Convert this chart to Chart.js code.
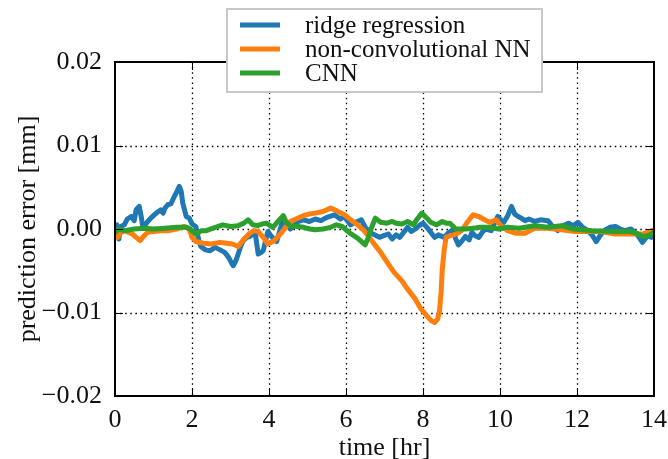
<!DOCTYPE html>
<html>
<head>
<meta charset="utf-8">
<script src="https://cdn.jsdelivr.net/npm/chart.js@4.4.1/dist/chart.umd.min.js"></script>
<style>
html,body{margin:0;padding:0;background:#fff;}
#c{display:block;}
</style>
</head>
<body>
<canvas id="c" width="668" height="459"></canvas>
<script>
// ---- data ----
const seriesLabels = ["ridge regression", "non-convolutional NN", "CNN"];
const seriesColors = ["#1f77b4", "#ff7f0e", "#2ca02c"];
const xTicks = [0, 2, 4, 6, 8, 10, 12, 14];
const yTicks = [-0.02, -0.01, 0.00, 0.01, 0.02];

const ridgeTime = [0.00,0.05,0.10,0.15,0.24,0.32,0.42,0.50,0.55,0.63,0.68,0.72,0.80,0.85,0.95,1.02,1.10,1.19,1.25,1.30,1.37,1.45,1.54,1.60,1.67,1.72,1.76,1.85,1.93,2.00,2.10,2.17,2.23,2.35,2.47,2.60,2.73,2.85,2.95,3.02,3.07,3.14,3.20,3.27,3.33,3.42,3.50,3.58,3.64,3.72,3.80,3.85,3.92,3.97,4.05,4.12,4.20,4.28,4.37,4.45,4.55,4.65,4.75,4.90,5.05,5.20,5.35,5.50,5.70,5.85,5.96,6.05,6.12,6.25,6.40,6.50,6.60,6.70,6.87,6.98,7.10,7.20,7.30,7.40,7.50,7.60,7.70,7.80,7.90,8.00,8.10,8.20,8.30,8.40,8.55,8.65,8.78,8.85,8.92,9.00,9.10,9.20,9.27,9.35,9.45,9.55,9.63,9.77,9.85,9.94,10.02,10.10,10.20,10.30,10.38,10.47,10.55,10.65,10.75,10.90,11.05,11.25,11.35,11.50,11.60,11.78,11.90,12.03,12.15,12.28,12.40,12.50,12.60,12.73,12.85,13.00,13.12,13.25,13.40,13.50,13.60,13.70,13.78,13.85,13.93,14.00];
const ridgeError = [-0.0008,0.0005,-0.0012,0.0003,0.0005,0.0012,0.0015,0.0010,0.0023,0.0027,0.0015,0.0003,0.0006,0.0009,0.0014,0.0017,0.0020,0.0023,0.0019,0.0025,0.0029,0.0030,0.0039,0.0044,0.0051,0.0045,0.0031,0.0015,0.0013,0.0006,0.0003,-0.0012,-0.0021,-0.0025,-0.0026,-0.0022,-0.0025,-0.0028,-0.0034,-0.0040,-0.0044,-0.0038,-0.0030,-0.0020,-0.0014,-0.0010,-0.0009,-0.0006,-0.0004,-0.0030,-0.0028,-0.0026,-0.0012,-0.0003,-0.0008,-0.0012,-0.0015,-0.0002,0.0012,0.0006,0.0000,0.0004,0.0009,0.0011,0.0009,0.0012,0.0010,0.0014,0.0017,0.0012,0.0015,0.0009,0.0005,0.0008,0.0011,0.0002,-0.0003,-0.0006,-0.0010,-0.0008,-0.0006,-0.0012,-0.0007,-0.0010,-0.0004,0.0002,-0.0003,0.0000,0.0004,0.0007,0.0002,-0.0004,-0.0010,-0.0007,-0.0010,-0.0005,-0.0001,-0.0012,-0.0019,-0.0015,-0.0009,-0.0013,-0.0004,-0.0008,-0.0010,-0.0003,0.0000,-0.0002,0.0006,0.0015,0.0011,0.0008,0.0016,0.0027,0.0018,0.0015,0.0013,0.0010,0.0012,0.0009,0.0011,0.0010,0.0004,-0.0002,0.0003,0.0007,0.0004,0.0008,0.0002,-0.0002,-0.0008,-0.0015,-0.0008,-0.0001,0.0002,0.0003,0.0000,-0.0002,0.0000,-0.0004,-0.0009,-0.0016,-0.0011,-0.0008,-0.0010,-0.0003];

const nnTime = [0.00,0.07,0.15,0.25,0.35,0.45,0.55,0.65,0.72,0.85,1.00,1.20,1.40,1.60,1.80,1.93,2.00,2.10,2.30,2.50,2.73,2.90,3.05,3.20,3.35,3.50,3.62,3.72,3.85,3.97,4.10,4.20,4.35,4.55,4.70,4.90,5.05,5.20,5.40,5.60,5.75,5.96,6.15,6.30,6.45,6.56,6.70,6.90,7.10,7.25,7.45,7.60,7.80,7.95,8.10,8.22,8.30,8.38,8.43,8.47,8.50,8.55,8.60,8.70,8.80,8.90,9.00,9.15,9.30,9.45,9.56,9.73,9.90,10.00,10.20,10.40,10.65,10.90,11.25,11.60,11.94,12.30,12.60,13.00,13.37,13.70,14.00];
const nnError = [-0.0005,-0.0010,-0.0004,-0.0002,-0.0004,-0.0006,-0.0010,-0.0014,-0.0010,-0.0004,-0.0003,-0.0002,-0.0002,0.0000,0.0003,0.0000,-0.0010,-0.0015,-0.0017,-0.0018,-0.0016,-0.0017,-0.0018,-0.0021,-0.0012,-0.0005,-0.0002,-0.0003,-0.0010,-0.0018,-0.0015,-0.0011,-0.0003,0.0009,0.0012,0.0016,0.0018,0.0019,0.0021,0.0025,0.0022,0.0017,0.0010,0.0005,-0.0001,-0.0007,-0.0016,-0.0028,-0.0042,-0.0052,-0.0062,-0.0072,-0.0084,-0.0096,-0.0104,-0.0110,-0.0112,-0.0108,-0.0098,-0.0075,-0.0049,-0.0025,-0.0010,-0.0008,-0.0007,-0.0005,-0.0002,0.0008,0.0017,0.0015,0.0012,0.0008,0.0011,0.0005,-0.0002,-0.0005,-0.0005,0.0001,0.0001,-0.0001,-0.0003,-0.0003,-0.0003,-0.0006,-0.0006,-0.0006,-0.0001];

const cnnTime = [0.00,0.10,0.25,0.50,0.75,1.00,1.30,1.60,1.86,1.95,2.10,2.25,2.37,2.55,2.80,3.00,3.20,3.35,3.46,3.58,3.70,3.82,3.93,4.10,4.25,4.37,4.45,4.55,4.75,4.90,5.06,5.20,5.40,5.60,5.75,5.90,6.10,6.30,6.50,6.58,6.65,6.76,6.90,7.06,7.20,7.30,7.45,7.60,7.75,7.85,7.97,8.10,8.20,8.35,8.50,8.60,8.70,8.85,9.10,9.30,9.50,9.70,9.96,10.20,10.50,10.90,11.25,11.60,11.90,12.40,13.00,13.37,13.55,13.70,13.85,14.00];
const cnnError = [-0.0004,0.0000,-0.0002,0.0000,0.0001,0.0000,0.0001,0.0002,0.0002,0.0000,-0.0006,-0.0002,-0.0002,0.0001,0.0005,0.0003,0.0004,0.0007,0.0011,0.0005,0.0004,0.0006,0.0007,0.0002,0.0010,0.0016,0.0008,0.0004,0.0003,0.0002,0.0000,-0.0001,0.0000,0.0002,0.0005,0.0003,-0.0005,-0.0011,-0.0019,-0.0010,0.0000,0.0013,0.0008,0.0007,0.0009,0.0007,0.0006,0.0009,0.0005,0.0012,0.0019,0.0013,0.0008,0.0005,0.0009,0.0007,0.0007,0.0000,0.0000,0.0001,0.0002,0.0002,0.0000,0.0002,0.0001,0.0004,0.0002,0.0004,0.0000,-0.0002,-0.0003,-0.0003,-0.0005,-0.0009,-0.0008,-0.0004];

// ---- build chart ----
const FONT = "'Liberation Serif','Times New Roman',Times,serif";
const FS = 26;
const zip = (xs, ys) => xs.map((x, i) => ({x: x, y: ys[i]}));
const seriesData = [zip(ridgeTime, ridgeError), zip(nnTime, nnError), zip(cnnTime, cnnError)];

function fmtY(v) {
  if (Math.abs(v) < 1e-9) v = 0;
  return v.toFixed(2).replace('-', '\u2212');
}

const framePlugin = {
  id: 'frame',
  beforeDatasetsDraw(chart) {
    const {ctx, chartArea: a, scales: {x, y}} = chart;
    ctx.save();
    ctx.strokeStyle = '#000';
    ctx.lineWidth = 1.3;
    ctx.setLineDash([1.5, 3.6]);
    xTicks.slice(1, -1).forEach(t => {
      const px = Math.round(x.getPixelForValue(t)) + 0.5;
      ctx.beginPath(); ctx.moveTo(px, a.top); ctx.lineTo(px, a.bottom); ctx.stroke();
    });
    yTicks.slice(1, -1).forEach(t => {
      const py = Math.round(y.getPixelForValue(t)) + 0.5;
      ctx.beginPath(); ctx.moveTo(a.left, py); ctx.lineTo(a.right, py); ctx.stroke();
    });
    ctx.restore();
  },
  afterDatasetsDraw(chart) {
    const {ctx, chartArea: a, scales: {x, y}} = chart;
    ctx.save();
    ctx.strokeStyle = '#000';
    ctx.lineWidth = 1;
    const tl = 8;
    xTicks.forEach(t => {
      const px = Math.round(x.getPixelForValue(t)) + 0.5;
      ctx.beginPath();
      ctx.moveTo(px, a.bottom); ctx.lineTo(px, a.bottom - tl);
      ctx.moveTo(px, a.top); ctx.lineTo(px, a.top + tl);
      ctx.stroke();
    });
    yTicks.forEach(t => {
      const py = Math.round(y.getPixelForValue(t)) + 0.5;
      ctx.beginPath();
      ctx.moveTo(a.left, py); ctx.lineTo(a.left + tl, py);
      ctx.moveTo(a.right, py); ctx.lineTo(a.right - tl, py);
      ctx.stroke();
    });
    ctx.lineWidth = 2;
    ctx.strokeRect(a.left, a.top, a.right - a.left, a.bottom - a.top);
    ctx.restore();
  },
  afterDraw(chart) {
    const {ctx} = chart;
    ctx.save();
    const bx = 227, by = 9, bw = 315, bh = 83;
    ctx.fillStyle = '#fff';
    ctx.fillRect(bx, by, bw, bh);
    ctx.strokeStyle = '#c8c8c8';
    ctx.lineWidth = 2;
    ctx.strokeRect(bx, by, bw, bh);
    chart.data.datasets.forEach((ds, i) => {
      const ly = by + 16 + i * 24;
      ctx.strokeStyle = ds.borderColor;
      ctx.lineWidth = 5;
      ctx.beginPath(); ctx.moveTo(bx + 13, ly); ctx.lineTo(bx + 53, ly); ctx.stroke();
      ctx.fillStyle = '#111';
      ctx.font = '25px ' + FONT;
      ctx.textBaseline = 'middle';
      ctx.textAlign = 'left';
      ctx.fillText(ds.label, bx + 78, ly + 1);
    });
    ctx.restore();
  }
};

function noPad(s) { s.paddingLeft = 0; s.paddingRight = 0; s.paddingTop = 0; s.paddingBottom = 0; }

new Chart(document.getElementById('c'), {
  type: 'line',
  data: {
    datasets: seriesLabels.map((lab, i) => ({
      label: lab,
      data: seriesData[i],
      borderColor: seriesColors[i],
      backgroundColor: seriesColors[i],
      borderWidth: 5,
      pointRadius: 0,
      tension: 0,
      fill: false,
      borderJoinStyle: 'round',
      borderCapStyle: 'round',
      order: 3 - i
    }))
  },
  options: {
    responsive: false,
    animation: false,
    devicePixelRatio: 1,
    layout: {padding: {top: 62, right: 14, left: 0, bottom: 0}},
    plugins: {legend: {display: false}, tooltip: {enabled: false}},
    scales: {
      x: {
        type: 'linear', min: 0, max: 14,
        afterBuildTicks: s => { s.ticks = xTicks.map(v => ({value: v})); },
        afterFit: s => { s.height = 63; noPad(s); },
        grid: {display: false, drawTicks: false},
        border: {display: false},
        ticks: {color: '#111', font: {family: FONT, size: FS}, padding: 9, maxRotation: 0,
                callback: v => String(v)},
        title: {display: true, text: 'time [hr]', color: '#111', font: {family: FONT, size: FS},
                padding: {top: 0, bottom: -5}}
      },
      y: {
        type: 'linear', min: -0.02, max: 0.02,
        afterBuildTicks: s => { s.ticks = yTicks.map(v => ({value: v})); },
        afterFit: s => { s.width = 115; noPad(s); },
        grid: {display: false, drawTicks: false},
        border: {display: false},
        ticks: {color: '#111', font: {family: FONT, size: FS}, padding: 13,
                callback: v => fmtY(v)},
        title: {display: true, text: 'prediction error [mm]', color: '#111', font: {family: FONT, size: FS},
                padding: {top: 13, bottom: 0}}
      }
    }
  },
  plugins: [framePlugin]
});
</script>
</body>
</html>
